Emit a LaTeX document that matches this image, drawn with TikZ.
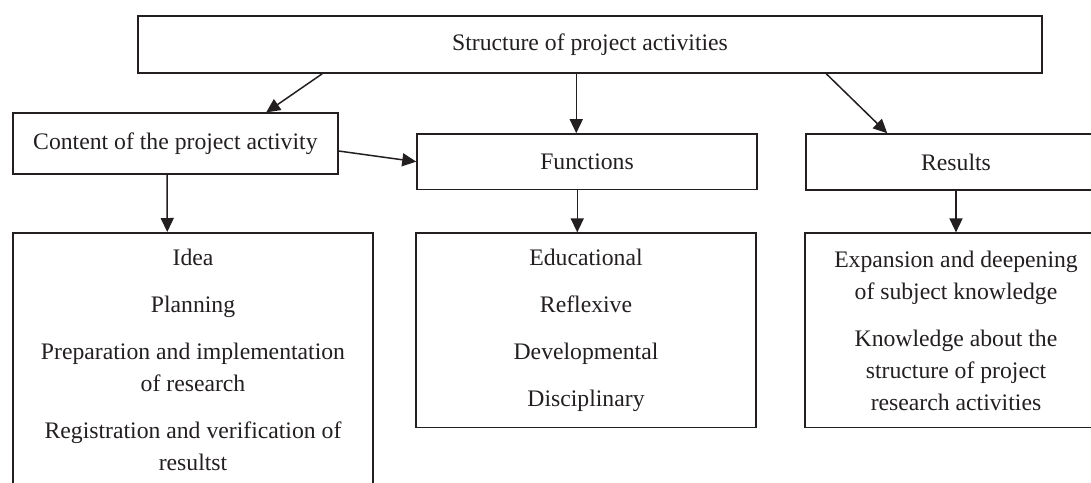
\documentclass[tikz,border=0pt]{standalone}
\usepackage{fontspec}
\setmainfont{Liberation Serif}
\usetikzlibrary{arrows.meta}
\definecolor{diagink}{rgb}{0.137, 0.122, 0.125}
\tikzset{box/.style={draw=diagink, line width=1.5pt, text=diagink, inner sep=0pt, align=center}}
\tikzset{listbox/.style={box, inner ysep=16pt}}
\tikzset{arr/.style={line width=1.5pt, color=diagink, -{Triangle[length=14pt, width=13pt]}}}

\begin{document}
\begin{tikzpicture}[x=1pt, y=-1pt, font=\fontsize{23.7pt}{32pt}\selectfont]
        \useasboundingbox (0,0) rectangle (1091,482);
        \clip (0,0) rectangle (1091,482);

        % heading and the three branches
        \node[box, minimum width=904pt, minimum height=57pt] (Ntop) at (590, 44.5)
        {Structure of project activities};
        \node[box, minimum width=325pt, minimum height=61pt] (Ncont) at (175.4, 143.7)
        {Content of the project activity};
        \node[box, minimum width=340pt, minimum height=55.5pt] (Nfunc) at (587, 161.7)
        {Functions};
        \node[box, minimum width=300pt, minimum height=56pt] (Nres) at (956, 162)
        {Results};

        % lists under each branch
        \node[listbox, anchor=north, minimum width=360pt] (Ncontlist) at (193, 232)
        {Idea\\[15pt] Planning\\[15pt] Preparation and implementation\\ of research\\[15pt]
         Registration and verification of\\ resultst};
        \node[listbox, minimum width=340pt, minimum height=194.5pt] (Nfunclist) at (586, 330.4)
        {Educational\\[15pt] Reflexive\\[15pt] Developmental\\[15pt] Disciplinary};
        \node[listbox, minimum width=302pt, minimum height=194.5pt] (Nreslist) at (956, 330.4)
        {Expansion and deepening\\ of subject knowledge\\[15pt] Knowledge about the\\
         structure of project\\ research activities};

        \draw [arr] ([xshift=185pt]Ntop.south west) -- ([xshift=254pt]Ncont.north west);
        \draw [arr] ([xshift=439pt]Ntop.south west) -- ([xshift=160pt]Nfunc.north west);
        \draw [arr] ([xshift=689pt]Ntop.south west) -- ([xshift=82pt]Nres.north west);
        \draw [arr] ([yshift=-7.3pt]Ncont.east) -- (Nfunc.west);
        \draw [arr] ([xshift=155pt]Ncont.south west) -- ([xshift=155pt]Ncontlist.north west);
        \draw [arr] ([xshift=161pt]Nfunc.south west) -- ([xshift=162pt]Nfunclist.north west);
        \draw [arr] (Nres.south) -- (Nreslist.north);
    \end{tikzpicture}
\end{document}
